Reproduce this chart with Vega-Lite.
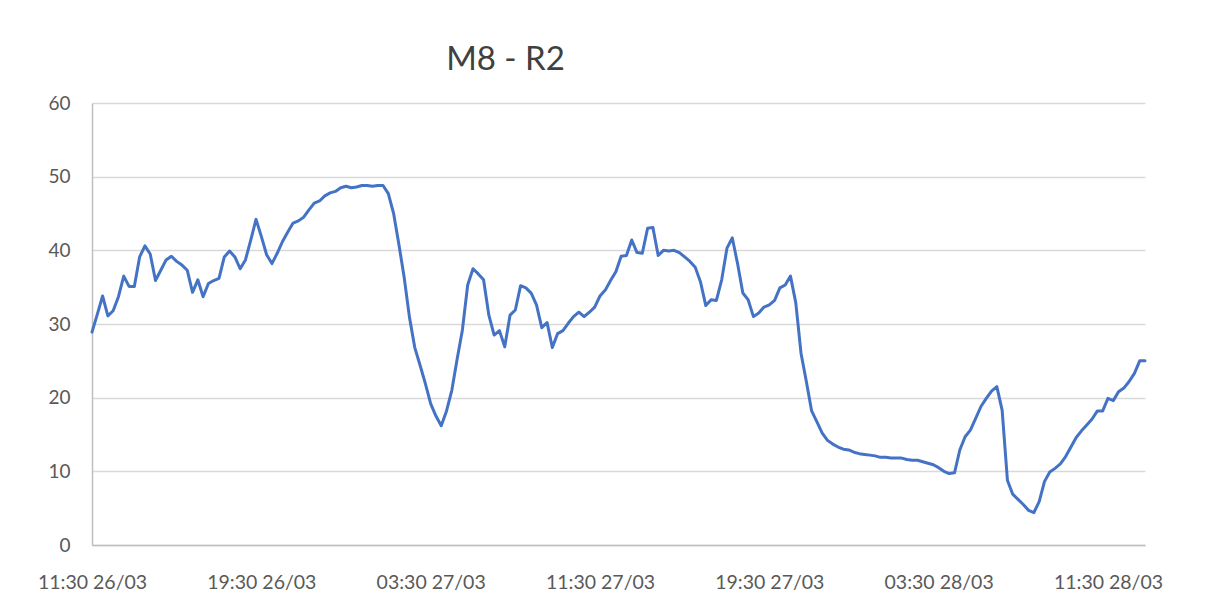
{
  "$schema": "https://vega.github.io/schema/vega-lite/v6.json",
  "width": 1053,
  "height": 442,
  "autosize": {"type": "none"},
  "padding": {"left": 92, "top": 103, "right": 72, "bottom": 62},
  "background": "white",
  "title": {"text": "M8 - R2", "fontSize": 33, "font": "Lato", "fontWeight": "normal", "color": "#404040", "anchor": "middle", "dx": -113, "offset": 17},
  "data": {"values": [
    {"t": "2024-03-26T11:30:00Z", "v": 28.9},
    {"t": "2024-03-26T11:45:00Z", "v": 31.3},
    {"t": "2024-03-26T12:00:00Z", "v": 33.8},
    {"t": "2024-03-26T12:15:00Z", "v": 31.1},
    {"t": "2024-03-26T12:30:00Z", "v": 31.8},
    {"t": "2024-03-26T12:45:00Z", "v": 33.7},
    {"t": "2024-03-26T13:00:00Z", "v": 36.5},
    {"t": "2024-03-26T13:15:00Z", "v": 35.1},
    {"t": "2024-03-26T13:30:00Z", "v": 35.1},
    {"t": "2024-03-26T13:45:00Z", "v": 39.1},
    {"t": "2024-03-26T14:00:00Z", "v": 40.6},
    {"t": "2024-03-26T14:15:00Z", "v": 39.5},
    {"t": "2024-03-26T14:30:00Z", "v": 35.9},
    {"t": "2024-03-26T14:45:00Z", "v": 37.3},
    {"t": "2024-03-26T15:00:00Z", "v": 38.7},
    {"t": "2024-03-26T15:15:00Z", "v": 39.2},
    {"t": "2024-03-26T15:30:00Z", "v": 38.5},
    {"t": "2024-03-26T15:45:00Z", "v": 38.0},
    {"t": "2024-03-26T16:00:00Z", "v": 37.3},
    {"t": "2024-03-26T16:15:00Z", "v": 34.3},
    {"t": "2024-03-26T16:30:00Z", "v": 36.0},
    {"t": "2024-03-26T16:45:00Z", "v": 33.7},
    {"t": "2024-03-26T17:00:00Z", "v": 35.5},
    {"t": "2024-03-26T17:15:00Z", "v": 35.9},
    {"t": "2024-03-26T17:30:00Z", "v": 36.2},
    {"t": "2024-03-26T17:45:00Z", "v": 39.1},
    {"t": "2024-03-26T18:00:00Z", "v": 39.9},
    {"t": "2024-03-26T18:15:00Z", "v": 39.1},
    {"t": "2024-03-26T18:30:00Z", "v": 37.5},
    {"t": "2024-03-26T18:45:00Z", "v": 38.7},
    {"t": "2024-03-26T19:00:00Z", "v": 41.4},
    {"t": "2024-03-26T19:15:00Z", "v": 44.2},
    {"t": "2024-03-26T19:30:00Z", "v": 41.9},
    {"t": "2024-03-26T19:45:00Z", "v": 39.4},
    {"t": "2024-03-26T20:00:00Z", "v": 38.2},
    {"t": "2024-03-26T20:15:00Z", "v": 39.6},
    {"t": "2024-03-26T20:30:00Z", "v": 41.2},
    {"t": "2024-03-26T20:45:00Z", "v": 42.5},
    {"t": "2024-03-26T21:00:00Z", "v": 43.7},
    {"t": "2024-03-26T21:15:00Z", "v": 44.0},
    {"t": "2024-03-26T21:30:00Z", "v": 44.5},
    {"t": "2024-03-26T21:45:00Z", "v": 45.5},
    {"t": "2024-03-26T22:00:00Z", "v": 46.4},
    {"t": "2024-03-26T22:15:00Z", "v": 46.7},
    {"t": "2024-03-26T22:30:00Z", "v": 47.4},
    {"t": "2024-03-26T22:45:00Z", "v": 47.8},
    {"t": "2024-03-26T23:00:00Z", "v": 48.0},
    {"t": "2024-03-26T23:15:00Z", "v": 48.5},
    {"t": "2024-03-26T23:30:00Z", "v": 48.7},
    {"t": "2024-03-26T23:45:00Z", "v": 48.5},
    {"t": "2024-03-27T00:00:00Z", "v": 48.6},
    {"t": "2024-03-27T00:15:00Z", "v": 48.8},
    {"t": "2024-03-27T00:30:00Z", "v": 48.8},
    {"t": "2024-03-27T00:45:00Z", "v": 48.7},
    {"t": "2024-03-27T01:00:00Z", "v": 48.8},
    {"t": "2024-03-27T01:15:00Z", "v": 48.8},
    {"t": "2024-03-27T01:30:00Z", "v": 47.7},
    {"t": "2024-03-27T01:45:00Z", "v": 45.0},
    {"t": "2024-03-27T02:00:00Z", "v": 40.8},
    {"t": "2024-03-27T02:15:00Z", "v": 36.3},
    {"t": "2024-03-27T02:30:00Z", "v": 30.9},
    {"t": "2024-03-27T02:45:00Z", "v": 26.8},
    {"t": "2024-03-27T03:00:00Z", "v": 24.4},
    {"t": "2024-03-27T03:15:00Z", "v": 21.9},
    {"t": "2024-03-27T03:30:00Z", "v": 19.2},
    {"t": "2024-03-27T03:45:00Z", "v": 17.5},
    {"t": "2024-03-27T04:00:00Z", "v": 16.2},
    {"t": "2024-03-27T04:15:00Z", "v": 18.2},
    {"t": "2024-03-27T04:30:00Z", "v": 21.0},
    {"t": "2024-03-27T04:45:00Z", "v": 25.2},
    {"t": "2024-03-27T05:00:00Z", "v": 29.2},
    {"t": "2024-03-27T05:15:00Z", "v": 35.3},
    {"t": "2024-03-27T05:30:00Z", "v": 37.5},
    {"t": "2024-03-27T05:45:00Z", "v": 36.8},
    {"t": "2024-03-27T06:00:00Z", "v": 36.0},
    {"t": "2024-03-27T06:15:00Z", "v": 31.2},
    {"t": "2024-03-27T06:30:00Z", "v": 28.5},
    {"t": "2024-03-27T06:45:00Z", "v": 29.1},
    {"t": "2024-03-27T07:00:00Z", "v": 26.9},
    {"t": "2024-03-27T07:15:00Z", "v": 31.2},
    {"t": "2024-03-27T07:30:00Z", "v": 31.9},
    {"t": "2024-03-27T07:45:00Z", "v": 35.2},
    {"t": "2024-03-27T08:00:00Z", "v": 34.9},
    {"t": "2024-03-27T08:15:00Z", "v": 34.2},
    {"t": "2024-03-27T08:30:00Z", "v": 32.6},
    {"t": "2024-03-27T08:45:00Z", "v": 29.5},
    {"t": "2024-03-27T09:00:00Z", "v": 30.2},
    {"t": "2024-03-27T09:15:00Z", "v": 26.8},
    {"t": "2024-03-27T09:30:00Z", "v": 28.7},
    {"t": "2024-03-27T09:45:00Z", "v": 29.1},
    {"t": "2024-03-27T10:00:00Z", "v": 30.1},
    {"t": "2024-03-27T10:15:00Z", "v": 31.0},
    {"t": "2024-03-27T10:30:00Z", "v": 31.6},
    {"t": "2024-03-27T10:45:00Z", "v": 31.0},
    {"t": "2024-03-27T11:00:00Z", "v": 31.6},
    {"t": "2024-03-27T11:15:00Z", "v": 32.3},
    {"t": "2024-03-27T11:30:00Z", "v": 33.8},
    {"t": "2024-03-27T11:45:00Z", "v": 34.6},
    {"t": "2024-03-27T12:00:00Z", "v": 35.9},
    {"t": "2024-03-27T12:15:00Z", "v": 37.1},
    {"t": "2024-03-27T12:30:00Z", "v": 39.2},
    {"t": "2024-03-27T12:45:00Z", "v": 39.3},
    {"t": "2024-03-27T13:00:00Z", "v": 41.4},
    {"t": "2024-03-27T13:15:00Z", "v": 39.7},
    {"t": "2024-03-27T13:30:00Z", "v": 39.6},
    {"t": "2024-03-27T13:45:00Z", "v": 43.0},
    {"t": "2024-03-27T14:00:00Z", "v": 43.1},
    {"t": "2024-03-27T14:15:00Z", "v": 39.3},
    {"t": "2024-03-27T14:30:00Z", "v": 40.0},
    {"t": "2024-03-27T14:45:00Z", "v": 39.9},
    {"t": "2024-03-27T15:00:00Z", "v": 40.0},
    {"t": "2024-03-27T15:15:00Z", "v": 39.7},
    {"t": "2024-03-27T15:30:00Z", "v": 39.1},
    {"t": "2024-03-27T15:45:00Z", "v": 38.5},
    {"t": "2024-03-27T16:00:00Z", "v": 37.7},
    {"t": "2024-03-27T16:15:00Z", "v": 35.7},
    {"t": "2024-03-27T16:30:00Z", "v": 32.5},
    {"t": "2024-03-27T16:45:00Z", "v": 33.3},
    {"t": "2024-03-27T17:00:00Z", "v": 33.2},
    {"t": "2024-03-27T17:15:00Z", "v": 36.0},
    {"t": "2024-03-27T17:30:00Z", "v": 40.3},
    {"t": "2024-03-27T17:45:00Z", "v": 41.7},
    {"t": "2024-03-27T18:00:00Z", "v": 38.2},
    {"t": "2024-03-27T18:15:00Z", "v": 34.2},
    {"t": "2024-03-27T18:30:00Z", "v": 33.3},
    {"t": "2024-03-27T18:45:00Z", "v": 31.0},
    {"t": "2024-03-27T19:00:00Z", "v": 31.5},
    {"t": "2024-03-27T19:15:00Z", "v": 32.3},
    {"t": "2024-03-27T19:30:00Z", "v": 32.6},
    {"t": "2024-03-27T19:45:00Z", "v": 33.2},
    {"t": "2024-03-27T20:00:00Z", "v": 34.9},
    {"t": "2024-03-27T20:15:00Z", "v": 35.3},
    {"t": "2024-03-27T20:30:00Z", "v": 36.5},
    {"t": "2024-03-27T20:45:00Z", "v": 32.9},
    {"t": "2024-03-27T21:00:00Z", "v": 26.0},
    {"t": "2024-03-27T21:15:00Z", "v": 22.2},
    {"t": "2024-03-27T21:30:00Z", "v": 18.2},
    {"t": "2024-03-27T21:45:00Z", "v": 16.7},
    {"t": "2024-03-27T22:00:00Z", "v": 15.2},
    {"t": "2024-03-27T22:15:00Z", "v": 14.2},
    {"t": "2024-03-27T22:30:00Z", "v": 13.7},
    {"t": "2024-03-27T22:45:00Z", "v": 13.3},
    {"t": "2024-03-27T23:00:00Z", "v": 13.0},
    {"t": "2024-03-27T23:15:00Z", "v": 12.9},
    {"t": "2024-03-27T23:30:00Z", "v": 12.6},
    {"t": "2024-03-27T23:45:00Z", "v": 12.4},
    {"t": "2024-03-28T00:00:00Z", "v": 12.3},
    {"t": "2024-03-28T00:15:00Z", "v": 12.2},
    {"t": "2024-03-28T00:30:00Z", "v": 12.1},
    {"t": "2024-03-28T00:45:00Z", "v": 11.9},
    {"t": "2024-03-28T01:00:00Z", "v": 11.9},
    {"t": "2024-03-28T01:15:00Z", "v": 11.8},
    {"t": "2024-03-28T01:30:00Z", "v": 11.8},
    {"t": "2024-03-28T01:45:00Z", "v": 11.8},
    {"t": "2024-03-28T02:00:00Z", "v": 11.6},
    {"t": "2024-03-28T02:15:00Z", "v": 11.5},
    {"t": "2024-03-28T02:30:00Z", "v": 11.5},
    {"t": "2024-03-28T02:45:00Z", "v": 11.3},
    {"t": "2024-03-28T03:00:00Z", "v": 11.1},
    {"t": "2024-03-28T03:15:00Z", "v": 10.9},
    {"t": "2024-03-28T03:30:00Z", "v": 10.5},
    {"t": "2024-03-28T03:45:00Z", "v": 10.0},
    {"t": "2024-03-28T04:00:00Z", "v": 9.7},
    {"t": "2024-03-28T04:15:00Z", "v": 9.8},
    {"t": "2024-03-28T04:30:00Z", "v": 12.9},
    {"t": "2024-03-28T04:45:00Z", "v": 14.7},
    {"t": "2024-03-28T05:00:00Z", "v": 15.6},
    {"t": "2024-03-28T05:15:00Z", "v": 17.2},
    {"t": "2024-03-28T05:30:00Z", "v": 18.8},
    {"t": "2024-03-28T05:45:00Z", "v": 19.9},
    {"t": "2024-03-28T06:00:00Z", "v": 20.9},
    {"t": "2024-03-28T06:15:00Z", "v": 21.5},
    {"t": "2024-03-28T06:30:00Z", "v": 18.3},
    {"t": "2024-03-28T06:45:00Z", "v": 8.8},
    {"t": "2024-03-28T07:00:00Z", "v": 6.9},
    {"t": "2024-03-28T07:15:00Z", "v": 6.2},
    {"t": "2024-03-28T07:30:00Z", "v": 5.5},
    {"t": "2024-03-28T07:45:00Z", "v": 4.7},
    {"t": "2024-03-28T08:00:00Z", "v": 4.4},
    {"t": "2024-03-28T08:15:00Z", "v": 5.9},
    {"t": "2024-03-28T08:30:00Z", "v": 8.6},
    {"t": "2024-03-28T08:45:00Z", "v": 9.9},
    {"t": "2024-03-28T09:00:00Z", "v": 10.4},
    {"t": "2024-03-28T09:15:00Z", "v": 11.0},
    {"t": "2024-03-28T09:30:00Z", "v": 12.0},
    {"t": "2024-03-28T09:45:00Z", "v": 13.3},
    {"t": "2024-03-28T10:00:00Z", "v": 14.6},
    {"t": "2024-03-28T10:15:00Z", "v": 15.5},
    {"t": "2024-03-28T10:30:00Z", "v": 16.3},
    {"t": "2024-03-28T10:45:00Z", "v": 17.1},
    {"t": "2024-03-28T11:00:00Z", "v": 18.2},
    {"t": "2024-03-28T11:15:00Z", "v": 18.2},
    {"t": "2024-03-28T11:30:00Z", "v": 19.9},
    {"t": "2024-03-28T11:45:00Z", "v": 19.6},
    {"t": "2024-03-28T12:00:00Z", "v": 20.8},
    {"t": "2024-03-28T12:15:00Z", "v": 21.3},
    {"t": "2024-03-28T12:30:00Z", "v": 22.2},
    {"t": "2024-03-28T12:45:00Z", "v": 23.3},
    {"t": "2024-03-28T13:00:00Z", "v": 25.0},
    {"t": "2024-03-28T13:15:00Z", "v": 25.0}
  ]},
  "mark": {"type": "line", "color": "#4472C4", "strokeWidth": 3, "strokeJoin": "round", "strokeCap": "round"},
  "encoding": {
    "x": {
      "field": "t", "type": "temporal", "title": null,
      "scale": {"type": "utc", "domain": [
        {"year": 2024, "month": 3, "date": 26, "hours": 11, "minutes": 30, "utc": true},
        {"year": 2024, "month": 3, "date": 28, "hours": 13, "minutes": 15, "utc": true}
      ]},
      "axis": {
        "values": [
          {"year": 2024, "month": 3, "date": 26, "hours": 11, "minutes": 30, "utc": true},
          {"year": 2024, "month": 3, "date": 26, "hours": 19, "minutes": 30, "utc": true},
          {"year": 2024, "month": 3, "date": 27, "hours": 3, "minutes": 30, "utc": true},
          {"year": 2024, "month": 3, "date": 27, "hours": 11, "minutes": 30, "utc": true},
          {"year": 2024, "month": 3, "date": 27, "hours": 19, "minutes": 30, "utc": true},
          {"year": 2024, "month": 3, "date": 28, "hours": 3, "minutes": 30, "utc": true},
          {"year": 2024, "month": 3, "date": 28, "hours": 11, "minutes": 30, "utc": true}
        ],
        "format": "%H:%M %d/%m",
        "grid": false,
        "ticks": false,
        "tickSize": 0,
        "labelPadding": 28,
        "labelFont": "Lato",
        "labelFontSize": 19.5,
        "labelColor": "#595959",
        "labelFlush": false,
        "labelOverlap": false,
        "domainColor": "#bfbfbf",
        "domainWidth": 1.5
      }
    },
    "y": {
      "field": "v", "type": "quantitative", "title": null,
      "scale": {"domain": [0, 60], "nice": false},
      "axis": {
        "values": [0, 10, 20, 30, 40, 50, 60],
        "grid": true,
        "gridColor": "#d9d9d9",
        "gridWidth": 1.3,
        "ticks": false,
        "tickSize": 0,
        "labelPadding": 22,
        "labelFont": "Lato",
        "labelFontSize": 19,
        "labelColor": "#595959",
        "domainColor": "#bfbfbf",
        "domainWidth": 1.5
      }
    }
  },
  "config": {"view": {"stroke": null}}
}
